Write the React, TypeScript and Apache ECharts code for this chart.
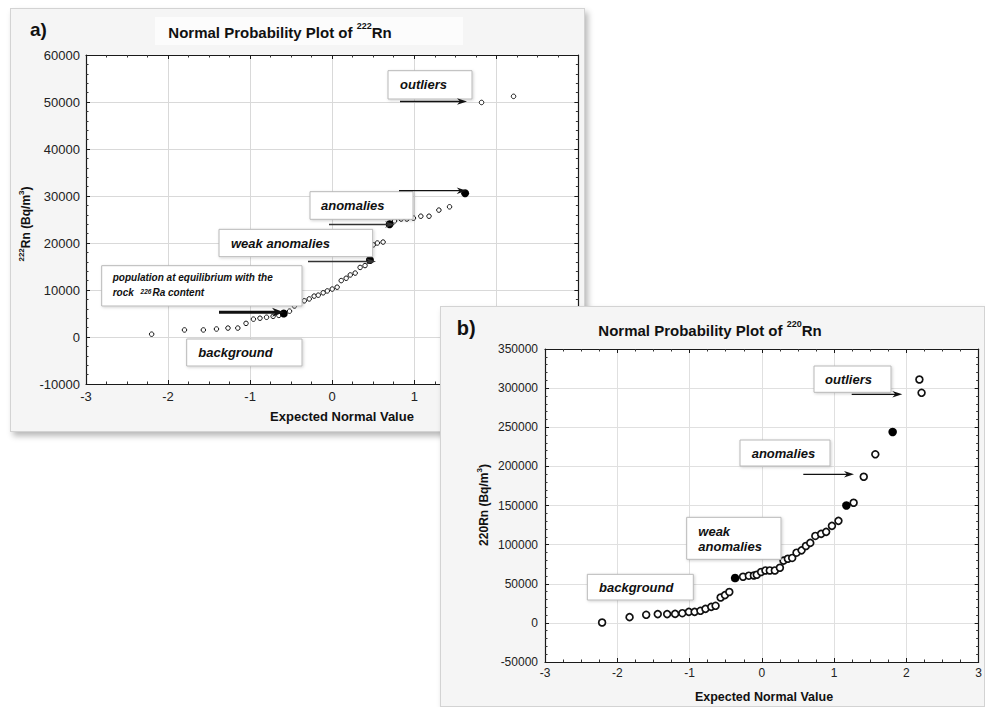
import React, { useEffect, useRef } from "react";
import * as echarts from "echarts";

const FONT = "'Liberation Sans', Arial, Helvetica, sans-serif";

// ---------- Panel a) 222Rn ----------
const aXTicks = [-3, -2, -1, 0, 1, 2, 3];
const aYTicks = [-10000, 0, 10000, 20000, 30000, 40000, 50000, 60000];
const aOpenX = [-2.2, -1.8, -1.57, -1.41, -1.27, -1.15, -1.05, -0.96, -0.88, -0.8, -0.72, -0.65, -0.52, -0.46, -0.4, -0.34, -0.28, -0.22, -0.17, -0.11, -0.06, 0.0, 0.06, 0.11, 0.17, 0.22, 0.28, 0.34, 0.4, 0.5, 0.55, 0.62, 0.76, 0.84, 0.91, 0.99, 1.08, 1.18, 1.3, 1.43, 1.82, 2.21];
const aOpenY = [600, 1500, 1500, 1700, 1900, 1900, 2900, 3800, 4000, 4200, 4400, 4600, 5500, 6600, 7200, 7700, 8100, 8700, 8900, 9400, 9800, 10200, 10600, 12000, 12500, 13200, 13600, 14800, 15200, 19600, 20000, 20200, 24700, 25100, 25100, 25300, 25700, 25700, 27000, 27700, 49900, 51200];
const aFilledX = [-0.59, 0.46, 0.7, 1.62];
const aFilledY = [5000, 16400, 24000, 30600];

// ---------- Panel b) 220Rn ----------
const bXTicks = [-3, -2, -1, 0, 1, 2, 3];
const bYTicks = [-50000, 0, 50000, 100000, 150000, 200000, 250000, 300000, 350000];
const bOpenX = [-2.21, -1.83, -1.6, -1.44, -1.31, -1.2, -1.1, -1.01, -0.93, -0.85, -0.78, -0.7, -0.64, -0.57, -0.51, -0.45, -0.26, -0.18, -0.11, -0.07, -0.01, 0.05, 0.11, 0.18, 0.25, 0.3, 0.36, 0.42, 0.48, 0.55, 0.61, 0.67, 0.74, 0.82, 0.89, 0.97, 1.06, 1.27, 1.41, 1.57, 2.18, 2.21];
const bOpenY = [500, 7300, 10300, 11200, 11200, 11500, 12400, 14100, 14100, 15400, 17900, 20500, 21800, 32400, 35500, 39400, 59000, 60300, 60600, 61500, 65000, 67000, 67000, 67000, 70500, 79500, 82000, 83000, 89700, 92700, 98300, 102200, 111100, 113700, 116300, 124000, 130400, 153500, 186800, 215400, 311000, 294000];
const bFilledX = [-0.37, 1.17, 1.81];
const bFilledY = [57300, 150000, 244000];

const SUP = { fontSize: 9, fontWeight: "bold", fontFamily: FONT, verticalAlign: "top", fill: "#111" };

function box(x: number, y: number, w: number, h: number) {
  return {
    type: "rect", z: 20,
    shape: { x, y, width: w, height: h },
    style: { fill: "#ffffff", stroke: "#b8b8b8", lineWidth: 1, shadowBlur: 3, shadowColor: "rgba(0,0,0,0.18)", shadowOffsetX: 1, shadowOffsetY: 1 },
  };
}
function label(x: number, y: number, text: string, size = 13, rich?: any) {
  return {
    type: "text", z: 21, x, y,
    style: {
      text, fontSize: size, fontWeight: "bold", fontStyle: "italic", fontFamily: FONT,
      fill: "#111", align: "left", verticalAlign: "middle", rich,
    },
  };
}
function arrow(x1: number, x2: number, y: number, w = 1.3, head = 10, hw = 3.2, color = "#111") {
  return [
    { type: "line", z: 21, shape: { x1, y1: y, x2: x2 - head * 0.6, y2: y }, style: { stroke: color, lineWidth: w } },
    { type: "polygon", z: 22, shape: { points: [[x2, y], [x2 - head, y - hw], [x2 - head * 0.7, y], [x2 - head, y + hw]] }, style: { fill: color } },
  ];
}
function plainText(x: number, y: number, text: string, size: number, opts: any = {}) {
  return {
    type: "text", z: 21, x, y, rotation: opts.rotation || 0,
    style: {
      text, fontSize: size, fontWeight: "bold", fontFamily: FONT, fill: "#111",
      align: opts.align || "center", verticalAlign: "middle", lineHeight: opts.lineHeight,
      rich: opts.rich,
    },
  };
}

function buildOption(cfg: any) {
  const xt = cfg.xTicks, yt = cfg.yTicks;
  const axisLine = { show: true, onZero: false, lineStyle: { color: "#1a1a1a", width: 1.2 } };
  const tick = { show: true, inside: true, length: 4, lineStyle: { color: "#1a1a1a", width: 1 } };
  const minor = (n: number) => ({ show: true, splitNumber: n, length: 2.5, lineStyle: { color: "#333", width: 1 } });
  const lbl = (margin: number) => ({
    show: true, margin, fontSize: cfg.labelSize, color: "#222", fontFamily: FONT,
    formatter: (v: number) => String(v),
  });
  const xCommon = { type: "value", min: xt[0], max: xt[xt.length - 1], interval: xt[1] - xt[0], gridIndex: 0 };
  const yCommon = { type: "value", min: yt[0], max: yt[yt.length - 1], interval: yt[1] - yt[0], gridIndex: 0 };
  return {
    animation: false,
    backgroundColor: "transparent",
    grid: { ...cfg.grid, show: true, backgroundColor: "#ffffff", borderWidth: 0, containLabel: false },
    xAxis: [
      { ...xCommon, position: "bottom", axisLine, axisTick: tick, minorTick: minor(cfg.xMinor), axisLabel: lbl(cfg.xMargin),
        splitLine: { show: true, lineStyle: { color: cfg.gridColor, width: 1 } } },
      { ...xCommon, position: "top", axisLine, axisTick: tick, minorTick: minor(cfg.xMinor), axisLabel: { show: false }, splitLine: { show: false } },
    ],
    yAxis: [
      { ...yCommon, position: "left", axisLine, axisTick: tick, minorTick: minor(cfg.yMinor), axisLabel: lbl(cfg.yMargin),
        splitLine: { show: true, lineStyle: { color: cfg.gridColor, width: 1 } } },
      { ...yCommon, position: "right", axisLine, axisTick: tick, minorTick: minor(cfg.yMinor), axisLabel: { show: false }, splitLine: { show: false } },
    ],
    series: [
      {
        type: "scatter", xAxisIndex: 0, yAxisIndex: 0, z: 3,
        data: cfg.openX.map((x: number, i: number) => [x, cfg.openY[i]]),
        symbol: "circle", symbolSize: cfg.openSize,
        itemStyle: { color: "#ffffff", borderColor: "#111", borderWidth: cfg.openBorder, opacity: 1 },
      },
      {
        type: "scatter", xAxisIndex: 0, yAxisIndex: 0, z: 4,
        data: cfg.filledX.map((x: number, i: number) => [x, cfg.filledY[i]]),
        symbol: "circle", symbolSize: cfg.filledSize,
        itemStyle: { color: "#000000", opacity: 1 },
      },
    ],
    graphic: { elements: cfg.graphics },
  };
}

export default function App() {
  const refA = useRef<HTMLDivElement>(null);
  const refB = useRef<HTMLDivElement>(null);

  useEffect(() => {
    const chartA = echarts.init(refA.current!, null, { renderer: "svg" });
    const chartB = echarts.init(refB.current!, null, { renderer: "svg" });

    const gA: any[] = [
      { type: "rect", z: 1, shape: { x: 145, y: 9, width: 308, height: 28 }, style: { fill: "#fcfcfc" } },
      plainText(20, 21.5, "a)", 19, { align: "left" }),
      plainText(270, 24, "Normal Probability Plot of {sup|222}Rn", 15, { lineHeight: 22, rich: { sup: SUP } }),
      plainText(332, 408.5, "Expected Normal Value", 13),
      plainText(16, 216, "{sup|222}Rn (Bq/m{sup|3})", 12, { rotation: Math.PI / 2, lineHeight: 18, rich: { sup: { ...SUP, fontSize: 8 } } }),
      box(378, 62.7, 84, 28.3), label(390, 76.8, "outliers"),
      ...arrow(390, 457, 93.5),
      box(300, 183.7, 103, 27.6), label(311, 197.5, "anomalies"),
      ...arrow(389, 456.7, 182.7),
      ...arrow(319, 385, 216.5, 1.3, 10, 3.2, "#333"),
      box(209, 221.3, 153.7, 27.4), label(221, 235, "weak anomalies"),
      ...arrow(298, 366, 253.5, 1.3, 10, 3.2, "#333"),
      box(91.7, 257.7, 200.3, 40.3),
      label(102.7, 269.7, "population at equilibrium with the", 10),
      label(102.7, 284.7, "rock {s|226}Ra content", 10, { s: { fontSize: 6.5, fontWeight: "bold", fontStyle: "italic", fontFamily: FONT, verticalAlign: "top", fill: "#111", padding: [0, 1, 0, 4] } }),
      ...arrow(209, 274, 304.3, 3, 12, 4.5),
      box(176.7, 331, 115.3, 27), label(188.3, 344.5, "background"),
    ];

    const gB: any[] = [
      plainText(16.7, 21.5, "b)", 20, { align: "left" }),
      plainText(270, 24.5, "Normal Probability Plot of {sup|220}Rn", 15, { lineHeight: 22, rich: { sup: SUP } }),
      plainText(324, 390.7, "Expected Normal Value", 12.5),
      plainText(44, 199, "220Rn (Bq/m{sup|3})", 12, { rotation: Math.PI / 2, lineHeight: 18, rich: { sup: { ...SUP, fontSize: 8 } } }),
      box(374, 60, 77, 26.3), label(385, 73, "outliers"),
      ...arrow(411.7, 462.3, 88.3),
      box(300, 134, 90, 26), label(311.7, 147, "anomalies"),
      ...arrow(363.3, 414, 168.3),
      box(246.7, 211.3, 94.3, 42), label(258.3, 225.7, "weak"), label(258.3, 240.7, "anomalies"),
      box(147.3, 268.3, 106, 25.7), label(159, 281, "background"),
    ];

    chartA.setOption(buildOption({
      grid: { left: 76, top: 47, width: 514, height: 329 },
      xTicks: aXTicks, yTicks: aYTicks, openX: aOpenX, openY: aOpenY, filledX: aFilledX, filledY: aFilledY,
      openSize: 4.5, openBorder: 1, filledSize: 8, labelSize: 13, xMinor: 4, yMinor: 5,
      gridColor: "#d9d9d9", xMargin: 6, yMargin: 6, graphics: gA,
    }));
    chartB.setOption(buildOption({
      grid: { left: 105, top: 43, width: 439, height: 313 },
      xTicks: bXTicks, yTicks: bYTicks, openX: bOpenX, openY: bOpenY, filledX: bFilledX, filledY: bFilledY,
      openSize: 6.8, openBorder: 1.7, filledSize: 8.5, labelSize: 12, xMinor: 4, yMinor: 5,
      gridColor: "#e0e0e0", xMargin: 5, yMargin: 7, graphics: gB,
    }));

    return () => {
      chartA.dispose();
      chartB.dispose();
    };
  }, []);

  const panel: React.CSSProperties = {
    position: "absolute", background: "#f5f5f5", overflow: "hidden",
    boxShadow: "inset 0 0 0 1px #d3d3d3, 3px 4px 6px rgba(0,0,0,0.28)",
  };

  return (
    <div style={{ position: "absolute", left: 0, top: 0, width: 985, height: 707, overflow: "hidden", background: "#ffffff" }}>
      <div style={{ ...panel, left: 10, top: 8, width: 575, height: 424, zIndex: 1 }}>
        <div ref={refA} style={{ width: 575, height: 424 }} />
      </div>
      <div style={{ ...panel, left: 440, top: 306, width: 545, height: 401, zIndex: 2 }}>
        <div ref={refB} style={{ width: 545, height: 401 }} />
      </div>
    </div>
  );
}
